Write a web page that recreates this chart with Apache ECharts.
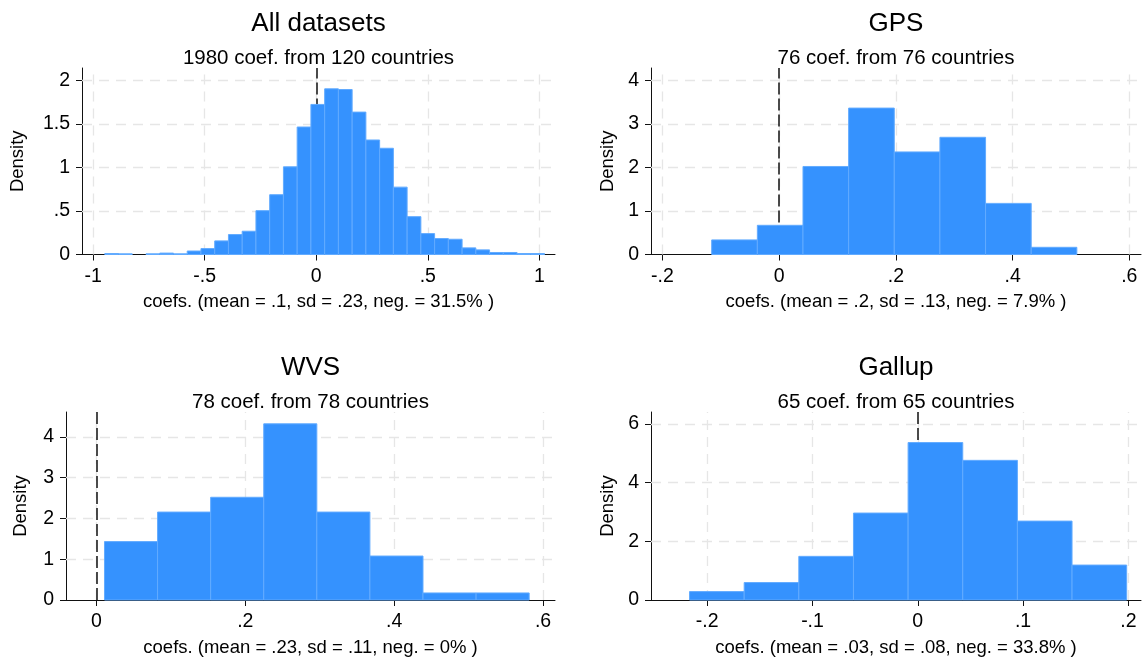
<!DOCTYPE html>
<html><head><meta charset="utf-8">
<script src="https://cdn.jsdelivr.net/npm/echarts@6/dist/echarts.min.js"></script>
<style>html,body{margin:0;padding:0;background:#fff}#c{width:1144px;height:660px}</style>
</head><body><div id="c"></div>
<script>
// ---------- data ----------
const panelTitles = ['All datasets', 'GPS', 'WVS', 'Gallup'];
const panelSubtitles = ['1980 coef. from 120 countries', '76 coef. from 76 countries', '78 coef. from 78 countries', '65 coef. from 65 countries'];
const xAxisTitles = [
  'coefs. (mean = .1, sd = .23, neg. = 31.5% )',
  'coefs. (mean = .2, sd = .13, neg. = 7.9% )',
  'coefs. (mean = .23, sd = .11, neg. = 0% )',
  'coefs. (mean = .03, sd = .08, neg. = 33.8% )'
];
const yAxisTitle = 'Density';

const xTicksAll = [-1, -0.5, 0, 0.5, 1];
const yTicksAll = [0, 0.5, 1, 1.5, 2];
const xTicksGPS = [-0.2, 0, 0.2, 0.4, 0.6];
const yTicksGPS = [0, 1, 2, 3, 4];
const xTicksWVS = [0, 0.2, 0.4, 0.6];
const yTicksWVS = [0, 1, 2, 3, 4];
const xTicksGallup = [-0.2, -0.1, 0, 0.1, 0.2];
const yTicksGallup = [0, 2, 4, 6];

// histogram bins: first edge, bin width, density per bin
const binStartAll = -0.948, binWidthAll = 0.0616;
const densityAll = [0.011, 0.008, 0, 0.008, 0.016, 0.008, 0.040, 0.068, 0.156, 0.229, 0.267, 0.503,
  0.686, 1.006, 1.463, 1.722, 1.901, 1.893, 1.634, 1.314, 1.219, 0.773, 0.434, 0.240,
  0.183, 0.175, 0.076, 0.053, 0.023, 0.023, 0.011, 0.011];
const binStartGPS = -0.1155, binWidthGPS = 0.0782;
const densityGPS = [0.335, 0.67, 2.02, 3.36, 2.354, 2.69, 1.173, 0.165];
const binStartWVS = 0.0109, binWidthWVS = 0.0713;
const densityWVS = [1.432, 2.156, 2.519, 4.32, 2.156, 1.078, 0.173, 0.173];
const binStartGallup = -0.2168, binWidthGallup = 0.0519;
const densityGallup = [0.286, 0.594, 1.486, 2.96, 5.36, 4.754, 2.686, 1.189];

const refLineValue = 0;

// ---------- layout / style ----------
const FONT = '"Liberation Sans", Arial, Helvetica, sans-serif';
const BAR = '#3592fe', BAR_EDGE = '#62abff';
const panels = [
  {grid: {left: 82, top: 68, width: 473, height: 186.5}, xr: [-1.05, 1.07], yr: [0, 2.14],
   xt: xTicksAll, yt: yTicksAll, bs: binStartAll, bw: binWidthAll, d: densityAll, yGap: 55},
  {grid: {left: 651, top: 68, width: 490, height: 186.5}, xr: [-0.2195, 0.62], yr: [0, 4.28],
   xt: xTicksGPS, yt: yTicksGPS, bs: binStartGPS, bw: binWidthGPS, d: densityGPS, yGap: 34},
  {grid: {left: 66, top: 412, width: 489, height: 188}, xr: [-0.0408, 0.616], yr: [0, 4.61],
   xt: xTicksWVS, yt: yTicksWVS, bs: binStartWVS, bw: binWidthWVS, d: densityWVS, yGap: 36},
  {grid: {left: 651, top: 412, width: 490, height: 188}, xr: [-0.2534, 0.212], yr: [0, 6.4],
   xt: xTicksGallup, yt: yTicksGallup, bs: binStartGallup, bw: binWidthGallup, d: densityGallup, yGap: 34}
];

function fmt(v) {
  const s = String(+(+v).toFixed(4));
  return s.replace(/^(-?)0\./, '$1.');
}

const grids = [], xAxes = [], yAxes = [], series = [], graphics = [];
panels.forEach((p, i) => {
  grids.push(Object.assign({containLabel: false}, p.grid));
  const cx = p.grid.left + p.grid.width / 2;
  const baseTop = p.grid.top;
  graphics.push({type: 'text', x: cx, y: baseTop - 44.5, silent: true,
    style: {text: panelTitles[i], fill: '#000', font: '26px ' + FONT, align: 'center', verticalAlign: 'middle'}});
  graphics.push({type: 'text', x: cx, y: baseTop - 10, silent: true,
    style: {text: panelSubtitles[i], fill: '#000', font: '20.5px ' + FONT, align: 'center', verticalAlign: 'middle'}});
  const axisLine = {show: true, onZero: false, lineStyle: {color: '#111', width: 1}};
  xAxes.push({
    gridIndex: i, type: 'value', min: p.xr[0], max: p.xr[1],
    axisLine: axisLine,
    axisTick: {show: true, length: 6, customValues: p.xt, lineStyle: {color: '#111', width: 1}},
    axisLabel: {customValues: p.xt, formatter: fmt, margin: 12, fontSize: 19.5, color: '#000', fontFamily: FONT},
    splitLine: {show: false},
    name: xAxisTitles[i], nameLocation: 'middle', nameGap: 38,
    nameTextStyle: {fontSize: 18.5, color: '#000', fontFamily: FONT}
  });
  yAxes.push({
    gridIndex: i, type: 'value', min: p.yr[0], max: p.yr[1],
    axisLine: axisLine,
    axisTick: {show: true, length: 6, customValues: p.yt, lineStyle: {color: '#111', width: 1}},
    axisLabel: {customValues: p.yt, formatter: fmt, margin: 12, fontSize: 19.5, color: '#000', fontFamily: FONT},
    splitLine: {show: false},
    name: yAxisTitle, nameLocation: 'middle', nameGap: p.yGap, nameRotate: 90,
    nameTextStyle: {fontSize: 18.5, color: '#000', fontFamily: FONT}
  });
  // grid lines
  series.push({
    type: 'line', xAxisIndex: i, yAxisIndex: i, data: [], z: 1, silent: true,
    markLine: {
      z: 1, silent: true, symbol: ['none', 'none'], label: {show: false}, animation: false,
      lineStyle: {color: '#e6e6e6', width: 1.3, type: [10, 7]},
      data: p.xt.map(v => ({xAxis: v})).concat(p.yt.filter(v => v > 0).map(v => ({yAxis: v})))
    }
  });
  // reference line at zero
  series.push({
    type: 'line', xAxisIndex: i, yAxisIndex: i, data: [], z: 2, silent: true,
    markLine: {
      z: 2, silent: true, symbol: ['none', 'none'], label: {show: false}, animation: false,
      lineStyle: {color: '#111', width: 1.5, type: [12, 4]},
      data: [{xAxis: refLineValue}]
    }
  });
  // histogram bars
  series.push({
    type: 'custom', xAxisIndex: i, yAxisIndex: i, z: 10,
    data: p.d.map((h, k) => [p.bs + k * p.bw, p.bs + (k + 1) * p.bw, h]),
    encode: {x: [0, 1], y: 2},
    renderItem: function (params, api) {
      const a = api.coord([api.value(0), api.value(2)]);
      const b = api.coord([api.value(1), 0]);
      if (api.value(2) <= 0) return null;
      return {type: 'rect', shape: {x: a[0], y: a[1], width: b[0] - a[0], height: b[1] - a[1]},
        style: {fill: BAR, stroke: BAR_EDGE, lineWidth: 1}};
    }
  });
});

const chart = echarts.init(document.getElementById('c'), null, {renderer: 'canvas'});
chart.setOption({
  animation: false,
  backgroundColor: '#fff',
  textStyle: {fontFamily: FONT},
  grid: grids, xAxis: xAxes, yAxis: yAxes, series: series, graphic: graphics
});
</script>
</body></html>
